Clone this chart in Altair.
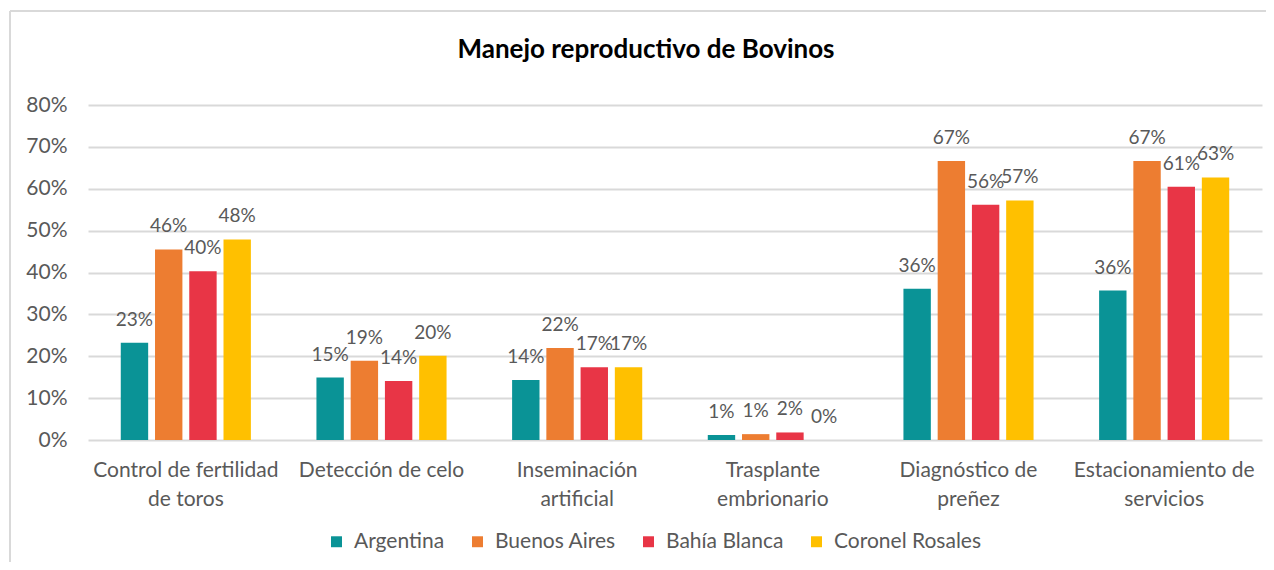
import altair as alt
import pandas as pd

categories = [
    "Control de fertilidad|de toros",
    "Detección de celo",
    "Inseminación|artificial",
    "Trasplante|embrionario",
    "Diagnóstico de|preñez",
    "Estacionamiento de|servicios",
]
series = ["Argentina", "Buenos Aires", "Bahía Blanca", "Coronel Rosales"]
argentina = [0.232, 0.149, 0.143, 0.012, 0.361, 0.357]
buenos_aires = [0.455, 0.189, 0.220, 0.014, 0.666, 0.666]
bahia_blanca = [0.403, 0.141, 0.174, 0.018, 0.562, 0.605]
coronel_rosales = [0.479, 0.201, 0.174, 0.0, 0.572, 0.627]
colors = ["#0A9396", "#ED7D31", "#E83546", "#FFC000"]
chart_title = "Manejo reproductivo de Bovinos"

rows = []
for s, vals in zip(series, [argentina, buenos_aires, bahia_blanca, coronel_rosales]):
    for c, v in zip(categories, vals):
        rows.append({"cat": c, "serie": s, "val": v})
df = pd.DataFrame(rows)

FONT = "Lato"
GREY = "#595959"

x_enc = alt.X("cat:N", sort=categories, title=None,
              scale=alt.Scale(paddingInner=0.3, paddingOuter=0.15),
              axis=alt.Axis(labelExpr="split(datum.label, '|')", labelAngle=0,
                            labelFontSize=21, labelColor=GREY, labelFont=FONT,
                            labelLimit=400,
                            domain=False, ticks=False, labelPadding=19,
                            labelLineHeight=29, labelBaseline="top"))
xo_enc = alt.XOffset("serie:N", sort=series,
                     scale=alt.Scale(paddingInner=0.2, paddingOuter=0.1))
y_enc = alt.Y("val:Q", title=None,
              scale=alt.Scale(domain=[0, 0.8], nice=False),
              axis=alt.Axis(format=".0%", values=[0, 0.1, 0.2, 0.3, 0.4, 0.5, 0.6, 0.7, 0.8],
                            labelFontSize=21, labelColor=GREY, labelFont=FONT,
                            domain=False, ticks=False, labelPadding=21,
                            gridColor="#D9D9D9", gridWidth=2))
color_enc = alt.Color("serie:N", sort=series,
                      scale=alt.Scale(domain=series, range=colors),
                      legend=alt.Legend(title=None, orient="none", direction="horizontal",
                                        legendX=238, legendY=426,
                                        symbolType="square", symbolSize=120,
                                        symbolStrokeWidth=0,
                                        labelFontSize=21, labelColor=GREY, labelFont=FONT,
                                        columnPadding=22, labelOffset=7))

bars = alt.Chart(df).mark_bar().encode(
    x=x_enc, xOffset=xo_enc, y=y_enc, color=color_enc
)

labels = alt.Chart(df).mark_text(dy=-23, fontSize=19, font=FONT, color=GREY).encode(
    x=alt.X("cat:N", sort=categories),
    xOffset=alt.XOffset("serie:N", sort=series),
    y="val:Q",
    text=alt.Text("val:Q", format=".0%"),
)

single = alt.Data(values=[{"k": 1}])
top_line = alt.Chart(single).mark_rule(color="#D9D9D9", strokeWidth=2).encode(
    x=alt.value(-78), x2=alt.value(1180), y=alt.value(-94)
)
left_line = alt.Chart(single).mark_rule(color="#D9D9D9", strokeWidth=2).encode(
    x=alt.value(-78), y=alt.value(-94), y2=alt.value(460)
)
title_text = alt.Chart(single).mark_text(
    text=chart_title, fontSize=26, font=FONT, fontWeight="bold", color="#000000"
).encode(x=alt.value(558), y=alt.value(-55))

chart = alt.layer(top_line, left_line, title_text, bars, labels).properties(
    width=1174,
    height=335,
    autosize=alt.AutoSizeParams(type="none"),
    padding={"left": 80, "top": 97, "right": 4, "bottom": 122},
).configure_view(stroke=None)

chart.save("out.html", embed_options={"renderer": "svg", "actions": False})
